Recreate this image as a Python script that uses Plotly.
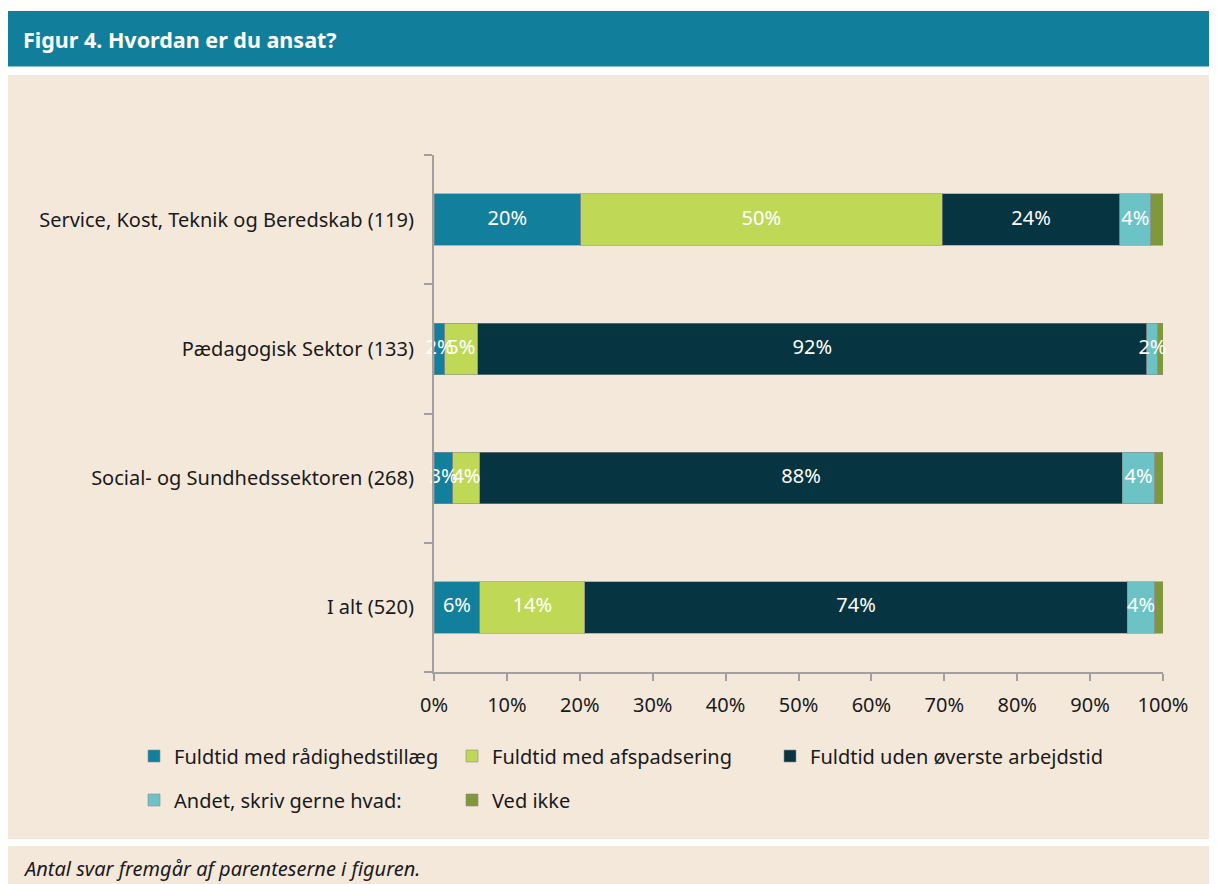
import plotly.graph_objects as go

categories = ["Service, Kost, Teknik og Beredskab (119)", "Pædagogisk Sektor (133)",
              "Social- og Sundhedssektoren (268)", "I alt (520)"]
series_names = ["Fuldtid med rådighedstillæg", "Fuldtid med afspadsering",
                "Fuldtid uden øverste arbejdstid", "Andet, skriv gerne hvad:", "Ved ikke"]
raadighed = [20.1, 1.5, 2.6, 6.3]
afspadsering = [49.6, 4.5, 3.7, 14.4]
uden = [24.4, 91.8, 88.1, 74.4]
andet = [4.2, 1.5, 4.5, 3.8]
vedikke = [1.7, 0.7, 1.1, 1.1]
raadighed_lbl = ["20%", "2%", "3%", "6%"]
afspadsering_lbl = ["50%", "5%", "4%", "14%"]
uden_lbl = ["24%", "92%", "88%", "74%"]
andet_lbl = ["4%", "2%", "4%", "4%"]
vedikke_lbl = ["", "", "", ""]
x_tickvals = [0, 10, 20, 30, 40, 50, 60, 70, 80, 90, 100]
x_ticktext = ["0%", "10%", "20%", "30%", "40%", "50%", "60%", "70%", "80%", "90%", "100%"]
title_text = "Figur 4. Hvordan er du ansat?"
footer_text = "Antal svar fremgår af parenteserne i figuren."

colors = ["#12809c", "#bfd957", "#073441", "#6cc3c6", "#7f983c"]
values = [raadighed, afspadsering, uden, andet, vedikke]
labels = [raadighed_lbl, afspadsering_lbl, uden_lbl, andet_lbl, vedikke_lbl]
legend_ids = ["legend", "legend", "legend3", "legend2", "legend2"]

FONT = "Noto Sans"
OFF = 8  # browser body margin
W, H = 1217 - OFF, 884 - OFF
L, R, T, B = 434 - OFF, 54, 155 - OFF, 212
PW, PH = W - L - R, H - T - B


def px(xr):
    return (xr - OFF - L) / PW


def py(yr):
    return (H - B - (yr - OFF)) / PH


fig = go.Figure()
for name, vals, col, lg in zip(series_names, values, colors, legend_ids):
    fig.add_trace(go.Bar(
        y=categories, x=vals, name=name, orientation="h",
        marker=dict(color=col, line=dict(color="rgba(140,140,140,0.6)", width=1)),
        legend=lg, hoverinfo="skip",
    ))

# segment labels drawn on top of all bars
cum = [0.0] * len(categories)
for vals, lbl in zip(values, labels):
    centers = [c + v / 2 for c, v in zip(cum, vals)]
    fig.add_trace(go.Scatter(
        y=categories, x=centers, mode="text", text=lbl, textposition="middle center",
        textfont=dict(color="white", size=20, family=FONT),
        showlegend=False, hoverinfo="skip", cliponaxis=False,
    ))
    cum = [c + v for c, v in zip(cum, vals)]

shapes = [
    dict(type="rect", xref="paper", yref="paper", x0=px(8), x1=px(1217), y0=py(11), y1=py(66.5),
         fillcolor="#117f9c", line=dict(width=0), layer="below"),
    dict(type="rect", xref="paper", yref="paper", x0=px(8), x1=px(1217), y0=py(75), y1=py(839),
         fillcolor="#f4e8db", line=dict(width=0), layer="below"),
    dict(type="rect", xref="paper", yref="paper", x0=px(8), x1=px(1217), y0=py(846), y1=py(884),
         fillcolor="#f4e8db", line=dict(width=0), layer="below"),
]

annotations = [
    dict(text=title_text, xref="paper", yref="paper", x=px(21), y=py(39), xanchor="left",
         yanchor="middle", showarrow=False,
         font=dict(family=FONT, size=21.5, color="white", weight="bold")),
    dict(text=footer_text, xref="paper", yref="paper", x=px(21), y=py(868), xanchor="left",
         yanchor="middle", showarrow=False,
         font=dict(family=FONT, size=20, color="#1a1a1a", style="italic")),
]

legend_common = dict(orientation="h", xanchor="left", yanchor="middle", traceorder="normal",
                     entrywidth=273, entrywidthmode="pixels", bgcolor="rgba(0,0,0,0)",
                     font=dict(family=FONT, size=20, color="#1a1a1a"))

fig.update_layout(
    width=W, height=H, barmode="stack", bargap=0.6,
    margin=dict(l=L, r=R, t=T, b=B, pad=0),
    paper_bgcolor="white", plot_bgcolor="rgba(0,0,0,0)",
    font=dict(family=FONT, size=20, color="#1a1a1a"),
    shapes=shapes, annotations=annotations,
    legend=dict(x=px(134), y=py(756), **legend_common),
    legend3=dict(x=px(134 + 2 * 318), y=py(756), orientation="h", xanchor="left",
                 yanchor="middle", bgcolor="rgba(0,0,0,0)",
                 font=dict(family=FONT, size=20, color="#1a1a1a")),
    legend2=dict(x=px(134), y=py(800), **legend_common),
)
fig.update_xaxes(range=[0, 100], tickvals=x_tickvals, ticktext=x_ticktext, showgrid=False,
                 zeroline=False, showline=True, linecolor="#a0a0a0", linewidth=2,
                 ticks="outside", ticklen=7, tickwidth=2, tickcolor="#a0a0a0",
                 ticklabelstandoff=7, fixedrange=True)
fig.update_yaxes(categoryorder="array", categoryarray=categories[::-1], showgrid=False,
                 showline=True, linecolor="#a0a0a0", linewidth=2, ticks="outside",
                 tickson="boundaries", ticklen=8, tickwidth=2, tickcolor="#a0a0a0",
                 ticklabelstandoff=14, fixedrange=True)

fig.write_html("out.html")
